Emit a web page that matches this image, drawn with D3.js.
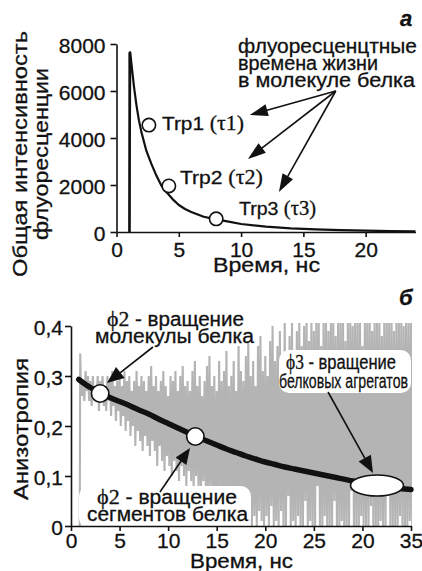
<!DOCTYPE html>
<html>
<head>
<meta charset="utf-8">
<script src="https://cdn.jsdelivr.net/npm/d3@7"></script>
<style>
  html, body { margin: 0; padding: 0; background: #fff; }
  svg { display: block; font-family: "Liberation Sans", Arial, sans-serif; }
</style>
</head>
<body>
<svg id="chart" width="422" height="571"></svg>
<script>
// ---- Panel а: total fluorescence intensity decay ----
const decayTime      = [1.04, 1.1, 1.2, 1.4, 1.6, 1.8, 2.0, 2.4, 2.8, 3.2, 3.6, 4.0, 4.5, 5.0, 5.5, 6.0, 7.0, 8.0, 9.0, 10, 12, 14, 16, 18, 20, 22, 24];
const decayIntensity = [0, 7650, 7150, 6200, 5400, 4750, 4250, 3450, 2900, 2400, 1980, 1700, 1400, 1150, 980, 850, 650, 540, 440, 340, 230, 155, 110, 78, 55, 40, 30];
const decayStartTime = [1.04, 1.04];
const decayStartValue = [0, 7650];
const decayTicksX = [0, 5, 10, 15, 20];
const decayTicksY = [0, 2000, 4000, 6000, 8000];

const trpNames     = ["Trp1", "Trp2", "Trp3"];
const trpTau       = ["τ1", "τ2", "τ3"];
const trpTime      = [2.6, 4.2, 8.0];
const trpIntensity = [4550, 1960, 560];

// ---- Panel б: fluorescence anisotropy ----
const spikeTime  = [0.9, 0.95];
const spikeValue = [0, 0.345];
// recorded trace, sampled every 0.25 ns from 1 ns: local maxima and minima
const noiseStart = 1.0, noiseStep = 0.25;
const noiseHigh = [
  0.30, 0.29, 0.31, 0.30, 0.29, 0.30, 0.28, 0.30, 0.29, 0.30,
  0.28, 0.30, 0.29, 0.31, 0.28, 0.29, 0.30, 0.28, 0.31, 0.29,
  0.30, 0.27, 0.29, 0.31, 0.28, 0.30, 0.29, 0.27, 0.30, 0.32,
  0.28, 0.30, 0.27, 0.29, 0.31, 0.28, 0.26, 0.30, 0.29, 0.31,
  0.27, 0.30, 0.32, 0.28, 0.29, 0.27, 0.31, 0.33, 0.28, 0.30,
  0.26, 0.29, 0.32, 0.34, 0.28, 0.30, 0.27, 0.33, 0.29, 0.31,
  0.35, 0.28, 0.30, 0.33, 0.27, 0.36, 0.31, 0.29, 0.34, 0.37,
  0.30, 0.33, 0.28, 0.36, 0.38, 0.31, 0.34, 0.30, 0.37, 0.40,
  0.33, 0.36, 0.39, 0.32, 0.41, 0.35, 0.38, 0.41, 0.34, 0.39,
  0.41, 0.36, 0.40, 0.41, 0.37, 0.41, 0.39, 0.41, 0.41, 0.36,
  0.41, 0.41, 0.39, 0.41, 0.41, 0.38, 0.41, 0.41, 0.41, 0.37,
  0.41, 0.41, 0.40, 0.41, 0.41, 0.41, 0.36, 0.41, 0.41, 0.41,
  0.39, 0.41, 0.41, 0.41, 0.38, 0.41, 0.41, 0.41, 0.41, 0.39,
  0.41, 0.41, 0.41, 0.40, 0.41, 0.41, 0.41];
const noiseLow = [
  0.26, 0.25, 0.27, 0.25, 0.24, 0.26, 0.25, 0.23, 0.25, 0.24,
  0.23, 0.25, 0.22, 0.24, 0.21, 0.23, 0.20, 0.22, 0.19, 0.21,
  0.18, 0.20, 0.16, 0.19, 0.17, 0.15, 0.18, 0.16, 0.14, 0.17,
  0.15, 0.12, 0.16, 0.13, 0.11, 0.14, 0.12, 0.10, 0.13, 0.11,
  0.09, 0.12, 0.10, 0.08, 0.11, 0.09, 0.07, 0.10, 0.08, 0.06,
  0.09, 0.07, 0.05, 0.08, 0.06, 0.04, 0.07, 0.05, 0.03, 0.06,
  0.04, 0.02, 0.05, 0.03, 0.01, 0.04, 0.02, 0.00, 0.03, 0.01,
  0.00, 0.02, 0.00, 0.03, 0.01, 0.00, 0.02, 0.00, 0.04, 0.00,
  0.01, 0.00, 0.03, 0.00, 0.00, 0.06, 0.00, 0.01, 0.00, 0.02,
  0.00, 0.00, 0.05, 0.00, 0.01, 0.00, 0.00, 0.08, 0.00, 0.00,
  0.02, 0.00, 0.00, 0.00, 0.05, 0.00, 0.00, 0.01, 0.00, 0.00,
  0.00, 0.07, 0.00, 0.00, 0.00, 0.02, 0.00, 0.00, 0.00, 0.04,
  0.00, 0.00, 0.00, 0.01, 0.00, 0.00, 0.06, 0.00, 0.00, 0.00,
  0.00, 0.02, 0.00, 0.00, 0.00, 0.01, 0.00];

const fitTime       = [0.8, 1.5, 2, 3, 4, 5, 6, 7, 8, 9, 10, 11, 12, 13, 14, 15, 16, 17, 18, 19, 20, 21, 22, 23, 24, 25, 27, 29, 31, 33, 35];
const fitAnisotropy = [0.293, 0.283, 0.277, 0.266, 0.257, 0.249, 0.241, 0.232, 0.224, 0.214, 0.205, 0.196, 0.187, 0.178, 0.170, 0.162, 0.154, 0.147, 0.140, 0.134, 0.128, 0.123, 0.118, 0.114, 0.110, 0.106, 0.098, 0.090, 0.083, 0.077, 0.073];

const anisoTicksX      = [0, 5, 10, 15, 20, 25, 30, 35];
const anisoTickLabelsX = ["0", "5", "10", "15", "20", "25", "20", "35"];
const anisoTicksY      = [0, 0.1, 0.2, 0.3, 0.4];
const anisoTickLabelsY = ["0", "0,1", "0,2", "0,3", "0,4"];

const phiTime  = [3.0, 12.8];
const phiValue = [0.265, 0.179];
const aggregateTime = 31.5, aggregateValue = 0.081;

// ---------------------------------------------------------------
const svg = d3.select("#chart");
const FONT = '"Liberation Sans", Arial, sans-serif';
const SERIF = '"Liberation Serif", "Times New Roman", serif';
const INK = "#111";

// text helper: parts = [[string, serif?], ...]
function addText(g, parts, x, y, opt = {}) {
  const size = opt.size || 20;
  const t = g.append("text")
    .attr("x", x).attr("y", y)
    .attr("font-size", size)
    .attr("font-family", FONT)
    .attr("text-anchor", opt.anchor || "start")
    .attr("fill", INK).attr("stroke", INK).attr("stroke-width", 0.3);
  if (opt.w) t.attr("textLength", opt.w).attr("lengthAdjust", "spacingAndGlyphs");
  if (opt.weight) t.attr("font-weight", opt.weight);
  if (opt.style) t.attr("font-style", opt.style);
  if (typeof parts === "string") parts = [[parts, false]];
  parts.forEach(([s, serif]) => {
    const sp = t.append("tspan").text(s);
    if (serif) sp.attr("font-family", SERIF).attr("font-size", size * 1.05);
  });
  return t;
}

function addRotated(g, s, x, y, w, size) {
  const gg = g.append("g").attr("transform", `translate(${x},${y}) rotate(-90)`);
  addText(gg, s, 0, 0, { anchor: "middle", w: w, size: size });
}

function arrow(g, x1, y1, x2, y2, L, W) {
  const dx = x2 - x1, dy = y2 - y1, len = Math.hypot(dx, dy);
  const ux = dx / len, uy = dy / len;
  const bx = x2 - ux * L, by = y2 - uy * L;
  g.append("line").attr("x1", x1).attr("y1", y1).attr("x2", bx + ux * 2).attr("y2", by + uy * 2)
    .attr("stroke", INK).attr("stroke-width", 1.6);
  g.append("path")
    .attr("d", `M${x2},${y2}L${bx - uy * W},${by + ux * W}L${bx + uy * W},${by - ux * W}Z`)
    .attr("fill", INK);
}

function styleAxis(sel) {
  sel.attr("font-family", FONT).attr("font-size", 21);
  sel.selectAll("path.domain").attr("stroke", INK).attr("stroke-width", 1.6);
  sel.selectAll(".tick line").attr("stroke", INK).attr("stroke-width", 1.6);
  sel.selectAll(".tick text").attr("fill", INK).attr("stroke", INK).attr("stroke-width", 0.3);
}

// ================= Panel а =================
const xA = d3.scaleLinear().domain([0, 24]).range([116.5, 415.5]);
const yA = d3.scaleLinear().domain([0, 8000]).range([232, 44]);
const gA = svg.append("g");

const lineA = d3.line().x(d => xA(d[0])).y(d => yA(d[1]));
gA.append("path")
  .datum(decayStartTime.map((t, i) => [t, decayStartValue[i]]))
  .attr("d", lineA).attr("fill", "none").attr("stroke", INK).attr("stroke-width", 2.2);
gA.append("path")
  .datum(decayTime.map((t, i) => [t, decayIntensity[i]]))
  .attr("d", lineA).attr("fill", "none").attr("stroke", INK).attr("stroke-width", 2.2)
  .attr("stroke-linejoin", "round");

gA.append("g").attr("transform", "translate(0,232)")
  .call(d3.axisBottom(xA).tickValues(decayTicksX).tickFormat(d3.format("d"))
    .tickSize(5).tickSizeOuter(0).tickPadding(5))
  .call(styleAxis);
gA.append("g").attr("transform", "translate(116.5,0)")
  .call(d3.axisLeft(yA).tickValues(decayTicksY).tickFormat(d3.format("d"))
    .tickSize(6).tickSizeOuter(0).tickPadding(5))
  .call(styleAxis)
  .call(s => s.selectAll(".tick text").attr("dy", "0.42em"));

// lifetime markers
gA.selectAll("circle.trp")
  .data(trpTime.map((t, i) => ({ t, v: trpIntensity[i] })))
  .join("circle").attr("class", "trp")
  .attr("cx", d => xA(d.t)).attr("cy", d => yA(d.v)).attr("r", 6.7)
  .attr("fill", "#fff").attr("stroke", INK).attr("stroke-width", 1.6);

const trpTextPos = [[162, 130, 82], [180, 184, 83], [239, 215, 77]];
trpNames.forEach((n, i) => {
  const [x, y, w] = trpTextPos[i];
  addText(gA, [[n + " ", false], ["(" + trpTau[i] + ")", true]], x, y, { w, size: 19 });
});

addText(gA, "флуоресценцтные", 238, 53, { w: 179, size: 20 });
addText(gA, "времена жизни", 238, 70, { w: 140, size: 20 });
addText(gA, "в молекуле белка", 238, 87, { w: 177, size: 20 });

const arrowFromA = [17.6, 6000];
[[10.7, 4980], [10.55, 3106], [13.04, 1702]].forEach(([t, v]) =>
  arrow(gA, xA(arrowFromA[0]), yA(arrowFromA[1]), xA(t), yA(v), 18, 6));

addRotated(gA, "Общая интенсивность", 26.5, 154, 246, 20);
addRotated(gA, "флуоресценции", 48, 154, 172, 20);
addText(gA, "Время, нс", 213, 272, { w: 107, size: 20 });
addText(gA, "а", 400, 26, { size: 22, weight: "bold", style: "italic" });

// ================= Panel б =================
const xB = d3.scaleLinear().domain([0, 35]).range([71, 411]);
const yB = d3.scaleLinear().domain([0, 0.4]).range([526, 326]);
const gB = svg.append("g");

svg.append("defs").append("clipPath").attr("id", "plotB")
  .append("rect").attr("x", 71).attr("y", yB(0.406)).attr("width", 341).attr("height", 526 - yB(0.406));

const noisePts = spikeTime.map((t, i) => [t, spikeValue[i]]);
noiseHigh.forEach((h, i) => {
  const t = noiseStart + i * noiseStep;
  noisePts.push([t, h]);
  noisePts.push([t + noiseStep / 2, noiseLow[i]]);
});
const lineB = d3.line().x(d => xB(d[0])).y(d => yB(d[1]));
gB.append("path").datum(noisePts)
  .attr("d", lineB).attr("clip-path", "url(#plotB)")
  .attr("fill", "none").attr("stroke", "#b4b4b4").attr("stroke-width", 2.1)
  .attr("stroke-linejoin", "bevel");

// label backgrounds
gB.append("rect").attr("x", 279).attr("y", 350).attr("width", 132).attr("height", 43)
  .attr("rx", 10).attr("fill", "#fff");
gB.append("rect").attr("x", 79).attr("y", 486).attr("width", 172).attr("height", 42)
  .attr("rx", 10).attr("fill", "#fff");

// fitted anisotropy decay
gB.append("path").datum(fitTime.map((t, i) => [t, fitAnisotropy[i]]))
  .attr("d", d3.line().curve(d3.curveMonotoneX).x(d => xB(d[0])).y(d => yB(d[1])))
  .attr("fill", "none").attr("stroke", INK).attr("stroke-width", 5.5).attr("stroke-linecap", "round");

gB.selectAll("circle.phi")
  .data(phiTime.map((t, i) => ({ t, v: phiValue[i] })))
  .join("circle").attr("class", "phi")
  .attr("cx", d => xB(d.t)).attr("cy", d => yB(d.v)).attr("r", 8.7)
  .attr("fill", "#fff").attr("stroke", INK).attr("stroke-width", 1.6);
gB.append("ellipse").attr("cx", xB(aggregateTime)).attr("cy", yB(aggregateValue))
  .attr("rx", 26.5).attr("ry", 10.5)
  .attr("fill", "#fff").attr("stroke", INK).attr("stroke-width", 1.6);

gB.append("g").attr("transform", "translate(0,526)")
  .call(d3.axisBottom(xB).tickValues(anisoTicksX).tickFormat((d, i) => anisoTickLabelsX[i])
    .tickSize(5).tickSizeOuter(0).tickPadding(2))
  .call(styleAxis);
gB.append("g").attr("transform", "translate(71,0)")
  .call(d3.axisLeft(yB).tickValues(anisoTicksY).tickFormat((d, i) => anisoTickLabelsY[i])
    .tickSize(6).tickSizeOuter(0).tickPadding(2))
  .call(styleAxis)
  .call(s => s.selectAll(".tick text").attr("dy", "0.4em"));

// annotations
addText(gB, [["ϕ2", true], [" - вращение", false]], 107, 326, { w: 137, size: 20 });
addText(gB, "молекулы белка", 95, 343, { w: 159, size: 20 });
addText(gB, [["ϕ3", true], [" - вращение", false]], 286, 369, { w: 110, size: 20 });
addText(gB, "белковых агрегатов", 279, 388, { w: 129, size: 20 });
addText(gB, [["ϕ2", true], [" - вращение", false]], 97, 504, { w: 140, size: 20 });
addText(gB, "сегментов белка", 87, 521, { w: 161, size: 20 });

arrow(gB, xB(8.44), yB(0.358), xB(3.7), yB(0.286), 17, 7);
arrow(gB, xB(9.16), yB(0.068), xB(12.25), yB(0.156), 16, 6.5);
arrow(gB, xB(26.46), yB(0.268), xB(31.09), yB(0.106), 17, 7);

addRotated(gB, "Анизотропия", 27.5, 429, 142, 20);
addText(gB, "Время, нс", 190, 568, { w: 103, size: 20 });
addText(gB, "б", 399, 305, { size: 22, weight: "bold", style: "italic" });
</script>
</body>
</html>
